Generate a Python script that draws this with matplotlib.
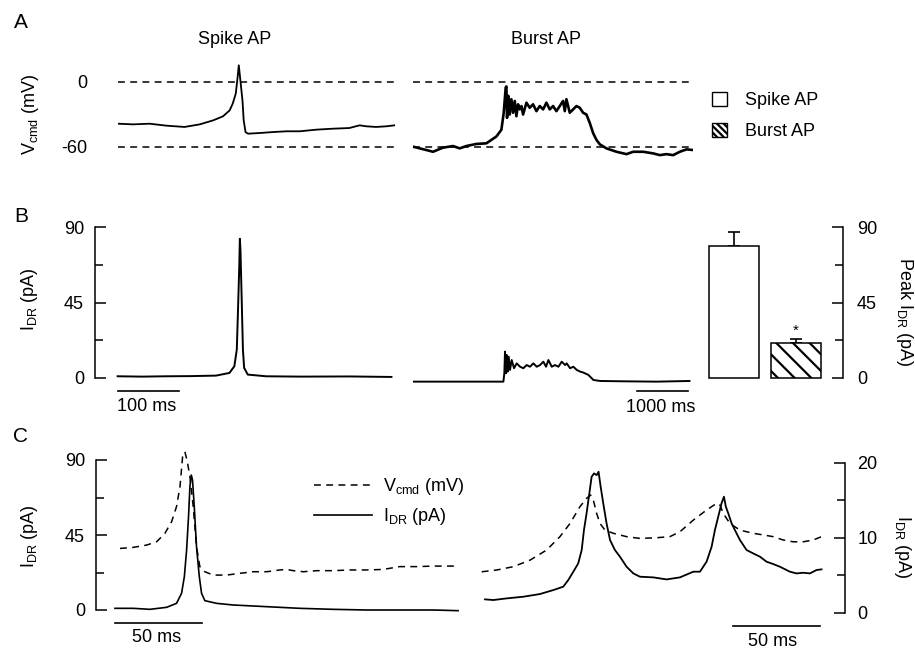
import numpy as np
import matplotlib
matplotlib.use("Agg")
import matplotlib.pyplot as plt
from matplotlib.patches import Patch
from matplotlib.lines import Line2D

plt.rcParams['font.family'] = ['Liberation Sans', 'DejaVu Sans']
plt.rcParams['mathtext.fontset'] = 'custom'
plt.rcParams['mathtext.rm'] = 'Liberation Sans'
plt.rcParams['mathtext.it'] = 'Liberation Sans:italic'
plt.rcParams['hatch.linewidth'] = 1.6
FS = 13

# ---------------- data ----------------
# Panel A: command voltage (mV) vs time (ms)
spike_t = [0, 24.6, 51.9, 79.2, 109, 134, 156, 172, 183, 188, 193, 195.5, 198, 200, 204, 206,
           209, 213, 232, 254, 276, 298, 325, 352, 379, 396, 407, 423, 440, 453]
spike_v = [-38.5, -39.1, -38.5, -40.3, -41.5, -39.1, -35.4, -31.7, -26.2, -20.0, -10.8, 1.5, 15.4,
           4.6, -16.9, -35.4, -46.2, -47.7, -47.1, -46.2, -45.5, -45.5, -44.0, -43.1, -42.5, -40.0,
           -40.9, -41.5, -40.9, -40.0]

burst_t = [0, 262, 392, 589, 785, 916, 1046, 1243, 1439, 1635, 1733, 1779, 1818, 1831, 1844, 1870,
           1897, 1929, 1962, 1995, 2027, 2060, 2093, 2126, 2158, 2224, 2289, 2354, 2420, 2485, 2551,
           2616, 2681, 2747, 2812, 2878, 2943, 2976, 3008, 3074, 3139, 3205, 3270, 3335, 3401, 3466,
           3532, 3597, 3662, 3793, 3989, 4186, 4316, 4513, 4709, 4840, 4970, 5101, 5232, 5363, 5494]
burst_v = [-59.7, -62.8, -64.4, -60.6, -59.1, -61.3, -59.1, -57.2, -56.6, -50.3, -44.1, -28.4, -5.0,
           -4.1, -33.1, -12.8, -30.0, -15.9, -28.4, -17.5, -31.6, -20.6, -25.3, -22.2, -30.0, -19.1,
           -23.8, -20.6, -26.9, -22.2, -25.3, -19.1, -25.3, -22.2, -26.9, -22.2, -17.5, -26.9, -15.9,
           -28.4, -25.3, -22.2, -23.8, -28.4, -30.0, -37.8, -47.2, -53.4, -57.5, -61.3, -64.4, -66.6,
           -64.4, -64.4, -65.9, -67.5, -66.6, -67.5, -64.4, -62.2, -62.8]
zero_mv = 0
rest_mv = -60

# Panel B: I_DR (pA) vs time (ms)
spikeI_t = [0, 40, 79, 120, 161, 183, 191, 195, 197, 199, 200, 201, 203, 205, 207, 213, 243, 300, 380, 448]
spikeI = [1.0, 0.8, 1.0, 1.1, 1.4, 3.0, 7, 17, 41, 66, 83, 76, 47, 17, 6, 2, 1, 0.8, 0.9, 0.6]

burstI_t = [0, 1772, 1791, 1804, 1824, 1837, 1857, 1876, 1902, 1935, 1981, 2033, 2099, 2164, 2229,
            2295, 2360, 2426, 2491, 2556, 2609, 2655, 2720, 2785, 2851, 2916, 2982, 3014, 3080, 3145,
            3210, 3276, 3341, 3439, 3537, 3668, 4126, 4780, 5421]
burstI = [-2.2, -2.2, 2.8, 15.7, 2.8, 13.7, 3.8, 12.7, 4.8, 10.7, 5.8, 8.7, 6.7, 5.8, 7.7, 6.7, 8.7,
          6.7, 7.7, 9.7, 6.7, 10.7, 6.7, 7.7, 6.7, 9.7, 7.7, 8.7, 5.8, 6.7, 4.8, 3.8, 3.2, 1.8, -1.2,
          -1.8, -2.0, -2.2, -1.8]

bar_labels = ['Spike AP', 'Burst AP']
bar_means = [78.6, 20.6]
bar_errs = [8.3, 2.8]

# Panel C left (spike AP, expanded)
cL_vt = [2.9, 10.5, 18.2, 24.0, 28.7, 32.6, 35.4, 37.4, 38.9, 40.2, 41.6, 43.1, 45.0, 46.9, 48.8, 51.7,
         56.5, 64.2, 71.9, 79.5, 87.2, 94.8, 98.7, 102.5, 108.3, 115.9, 125.5, 135.1, 144.7, 154.2,
         163.8, 173.4, 183.0, 195.4]
cL_v = [-40.1, -39.5, -38.2, -36.3, -31.6, -24.9, -16.4, -5.1, 11.9, 14.7, 9.1, 0.6, -16.4, -39.1,
        -50.4, -53.3, -55.2, -55.2, -54.2, -53.3, -53.3, -52.3, -52.0, -52.7, -53.3, -52.7, -52.7,
        -52.3, -52.3, -52.0, -50.4, -50.4, -50.1, -50.1]
cL_it = [0, 10.5, 20.1, 29.7, 35.4, 38.3, 39.9, 41.2, 42.3, 43.1, 43.9, 44.6, 45.6, 46.9, 48.5, 49.8,
         51.7, 58.4, 68.0, 87.2, 106.3, 125.5, 144.7, 163.8, 183.0, 197.3]
cL_i = [1.0, 1.0, 0.4, 1.6, 4, 10, 20, 36, 56, 74, 81, 78, 62, 38, 20, 10, 5.6, 4, 3, 2, 1, 0.4, 0,
        0, 0, -0.4]

# Panel C right (burst AP, expanded)
cR_vt = [-1.9, 6.7, 16.3, 25.9, 35.4, 43.1, 48.9, 54.6, 58.4, 60.7, 62.3, 64.2, 66.1, 69.0, 73.8,
         81.4, 89.1, 98.7, 106.3, 112.1, 119.8, 127.4, 133.2, 135.1, 137.0, 140.8, 146.6, 154.2,
         159.9, 165.7, 171.5, 177.2, 183.0, 188.7, 193.5]
cR_v = [-51.8, -50.8, -48.9, -45.2, -39.5, -31.9, -24.4, -14.9, -10.2, -8.3, -11.2, -18.7, -24.4,
        -28.2, -30.0, -31.9, -32.9, -32.5, -31.9, -29.1, -22.5, -16.8, -13.0, -14.0, -18.7, -24.4,
        -28.2, -30.0, -30.9, -31.9, -33.8, -34.8, -34.8, -33.8, -31.9]
cR_it = [0, 4.8, 12.5, 22.0, 31.6, 39.3, 45.0, 47.9, 50.8, 53.6, 55.6, 56.9, 58.4, 60.0, 61.3, 62.7,
         64.2, 65.3, 66.5, 68.0, 69.9, 71.9, 74.7, 77.6, 81.4, 85.3, 89.1, 96.8, 104.4, 112.1, 119.8,
         123.6, 127.4, 130.3, 132.2, 134.1, 136.0, 137.4, 138.5, 139.9, 141.8, 143.7, 146.6, 150.4,
         154.2, 158.1, 161.9, 165.7, 169.6, 175.3, 179.1, 183.0, 186.8, 190.6, 193.5]
cR_i = [1.78, 1.69, 1.91, 2.13, 2.49, 3.02, 3.47, 4.36, 5.47, 6.58, 8.36, 11.02, 13.24, 15.91, 18.13,
        18.58, 18.35, 18.80, 16.80, 14.58, 11.91, 9.69, 8.36, 7.47, 6.13, 5.24, 4.80, 4.71, 4.44,
        4.71, 5.47, 5.47, 6.80, 8.80, 11.02, 12.80, 14.58, 15.47, 14.13, 13.24, 11.91, 11.02, 9.69,
        8.36, 7.91, 7.47, 6.80, 6.49, 6.13, 5.47, 5.24, 5.33, 5.24, 5.69, 5.78]

# scale bars (ms)
sb_spike = 100
sb_burst = 1000
sb_c = 50

# ---------------- layout ----------------
W, H = 915, 654
fig = plt.figure(figsize=(W / 100, H / 100), dpi=100)


def box(x0, x1, y0, y1):
    return [x0 / W, 1 - y1 / H, (x1 - x0) / W, (y1 - y0) / H]


def fxy(x, y):
    return (x / W, 1 - y / H)


def ftext(x, y, s, **kw):
    kw.setdefault('fontsize', FS)
    kw.setdefault('ha', 'center')
    kw.setdefault('va', 'center')
    fig.text(x / W, 1 - y / H, s, **kw)


def clean(ax):
    for s in ax.spines.values():
        s.set_visible(False)
    ax.set_xticks([])
    ax.set_yticks([])
    ax.patch.set_visible(False)


K = 'black'
DASH = (0, (4.5, 3.5))

# ---- Panel A ----
axA1 = fig.add_axes(box(118, 395, 60, 160))
clean(axA1)
axA1.set_xlim(0, 454)
axA1.set_ylim(-72, 20.3)
axA1.axhline(zero_mv, color=K, lw=1.1, ls=DASH)
axA1.axhline(rest_mv, color=K, lw=1.1, ls=DASH)
axA1.plot(spike_t, spike_v, color=K, lw=1.3)
axA1.set_yticks([0, -60])
axA1.set_yticklabels(['0', '-60'], fontsize=FS)
axA1.tick_params(axis='y', length=0, pad=22)

axA2 = fig.add_axes(box(413, 693, 60, 160))
clean(axA2)
axA2.set_xlim(0, 5490)
axA2.set_ylim(-72, 20.3)
axA2.axhline(zero_mv, color=K, lw=1.1, ls=DASH)
axA2.axhline(rest_mv, color=K, lw=1.1, ls=DASH)
axA2.plot(burst_t, burst_v, color=K, lw=1.9)

ftext(235, 39, 'Spike AP')
ftext(546, 39, 'Burst AP')
ftext(31, 114, r'V$_{\mathrm{cmd}}$ (mV)', rotation=90)

legA = fig.legend(handles=[Patch(facecolor='white', edgecolor=K, lw=1.0),
                           Patch(facecolor='white', edgecolor=K, lw=1.0, hatch='\\\\\\\\\\')],
                  labels=bar_labels, loc='upper left', bbox_to_anchor=fxy(712, 92),
                  frameon=False, fontsize=FS, handlelength=0.85, handleheight=0.85,
                  handletextpad=1.0, labelspacing=0.75, borderpad=0, borderaxespad=0)

# ---- Panel B ----
axB1 = fig.add_axes(box(95, 400, 220, 385))
clean(axB1)
axB1.set_xlim(-37, 462)
axB1.set_ylim(-4.2, 94.2)
axB1.spines['left'].set_visible(True)
axB1.spines['left'].set_bounds(0, 90)
axB1.spines['left'].set_linewidth(1.1)
axB1.set_yticks([0, 45, 90])
axB1.set_yticks([22.5, 67.5], minor=True)
axB1.set_yticklabels(['0', '45', '90'])
axB1.tick_params(axis='y', which='both', direction='in', labelsize=FS, pad=8, width=1.1)
axB1.tick_params(axis='y', which='major', length=8)
axB1.tick_params(axis='y', which='minor', length=6)
axB1.plot(spikeI_t, spikeI, color=K, lw=1.4)
axB1.plot([0, sb_spike], [-7.7, -7.7], color=K, lw=1.2, clip_on=False)
axB1.text(sb_spike / 2 - 2, -16.8, f'{sb_spike} ms', ha='center', va='center', fontsize=FS)

axB2 = fig.add_axes(box(413, 693, 220, 385))
clean(axB2)
axB2.set_xlim(0, 5490)
axB2.set_ylim(-4.2, 94.2)
axB2.plot(burstI_t, burstI, color=K, lw=1.4)
axB2.plot([5390 - sb_burst, 5390], [-7.7, -7.7], color=K, lw=1.2, clip_on=False)
axB2.text(5390 - sb_burst / 2 - 40, -17.4, f'{sb_burst} ms', ha='center', va='center', fontsize=FS)

ftext(29, 299, r'I$_{\mathrm{DR}}$ (pA)', rotation=90)

axBar = fig.add_axes(box(700, 843, 220, 385))
clean(axBar)
axBar.set_xlim(-0.548, 1.758)
axBar.set_ylim(-4.2, 94.2)
xb = np.arange(len(bar_means))
axBar.errorbar(xb, bar_means, yerr=[np.zeros(len(bar_errs)), bar_errs], fmt='none',
               ecolor=K, elinewidth=1.2, capsize=4, capthick=1.2, zorder=1)
bars = axBar.bar(xb, bar_means, width=0.806, color='white', edgecolor=K, lw=1.1, zorder=2)
bars[1].set_hatch('\\\\')
axBar.text(1, bar_means[1] + bar_errs[1] + 4.5, '*', ha='center', va='center', fontsize=11)
axBar.spines['right'].set_visible(True)
axBar.spines['right'].set_bounds(0, 90)
axBar.spines['right'].set_linewidth(1.1)
axBar.yaxis.tick_right()
axBar.set_yticks([0, 45, 90])
axBar.set_yticks([22.5, 67.5], minor=True)
axBar.set_yticklabels(['0', '45', '90'])
axBar.tick_params(axis='y', which='both', direction='in', labelsize=FS, pad=10, width=1.1,
                  right=True, left=False)
axBar.tick_params(axis='y', which='major', length=8)
axBar.tick_params(axis='y', which='minor', length=6)
ftext(904, 312, r'Peak I$_{\mathrm{DR}}$ (pA)', rotation=-90)

# ---- Panel C ----
axC1 = fig.add_axes(box(96, 460, 450, 620))
clean(axC1)
axC1.set_xlim(-10.9, 198.4)
axC1.set_ylim(-6, 96)
axC1.spines['left'].set_visible(True)
axC1.spines['left'].set_bounds(0, 90)
axC1.spines['left'].set_linewidth(1.1)
axC1.set_yticks([0, 45, 90])
axC1.set_yticks([22.5, 67.5], minor=True)
axC1.set_yticklabels(['0', '45', '90'])
axC1.tick_params(axis='y', which='both', direction='in', labelsize=FS, pad=8, width=1.1)
axC1.tick_params(axis='y', which='major', length=8)
axC1.tick_params(axis='y', which='minor', length=6)
axC1.plot(cL_it, cL_i, color=K, lw=1.2)
axC1.plot([0, sb_c], [-7.8, -7.8], color=K, lw=1.2, clip_on=False)
axC1.text(sb_c / 2 - 1, -16.8, f'{sb_c} ms', ha='center', va='center', fontsize=FS)
axV1 = fig.add_axes(box(96, 460, 450, 620), sharex=axC1)
clean(axV1)
axV1.set_ylim(-80.65, 15.67)
axV1.plot(cL_vt, cL_v, color=K, lw=1.1, ls=DASH)
ftext(29, 536, r'I$_{\mathrm{DR}}$ (pA)', rotation=90)

axC2 = fig.add_axes(box(475, 845, 450, 625))
clean(axC2)
axC2.set_xlim(-5.75, 207)
axC2.set_ylim(-1.64, 21.7)
axC2.spines['right'].set_visible(True)
axC2.spines['right'].set_bounds(0, 20)
axC2.spines['right'].set_linewidth(1.1)
axC2.yaxis.tick_right()
axC2.set_yticks([0, 10, 20])
axC2.set_yticks([5, 15], minor=True)
axC2.set_yticklabels(['0', '10', '20'])
axC2.tick_params(axis='y', which='both', direction='in', labelsize=FS, pad=9, width=1.1,
                 right=True, left=False)
axC2.tick_params(axis='y', which='major', length=8)
axC2.tick_params(axis='y', which='minor', length=6)
axC2.plot(cR_it, cR_i, color=K, lw=1.3)
axC2.plot([192.6 - sb_c, 192.6], [-1.77, -1.77], color=K, lw=1.2, clip_on=False)
axC2.text(192.6 - sb_c / 2 - 2, -3.8, f'{sb_c} ms', ha='center', va='center', fontsize=FS)
axV2 = fig.add_axes(box(475, 845, 450, 625), sharex=axC2)
clean(axV2)
axV2.set_ylim(-81.95, 17.2)
axV2.plot(cR_vt, cR_v, color=K, lw=1.1, ls=DASH)
ftext(902, 547, r'I$_{\mathrm{DR}}$ (pA)', rotation=-90)

legC = fig.legend(handles=[Line2D([], [], color=K, lw=1.1, ls=DASH),
                           Line2D([], [], color=K, lw=1.2)],
                  labels=[r'V$_{\mathrm{cmd}}$ (mV)', r'I$_{\mathrm{DR}}$ (pA)'],
                  loc='upper left', bbox_to_anchor=fxy(314, 476), frameon=False, fontsize=FS,
                  handlelength=3.2, handletextpad=0.6, labelspacing=0.5, borderpad=0,
                  borderaxespad=0)

# panel letters
ftext(21, 22, 'A', fontsize=15)
ftext(21, 216, 'B', fontsize=15)
ftext(21, 436, 'C', fontsize=15)

fig.savefig('out.png', dpi=100)
